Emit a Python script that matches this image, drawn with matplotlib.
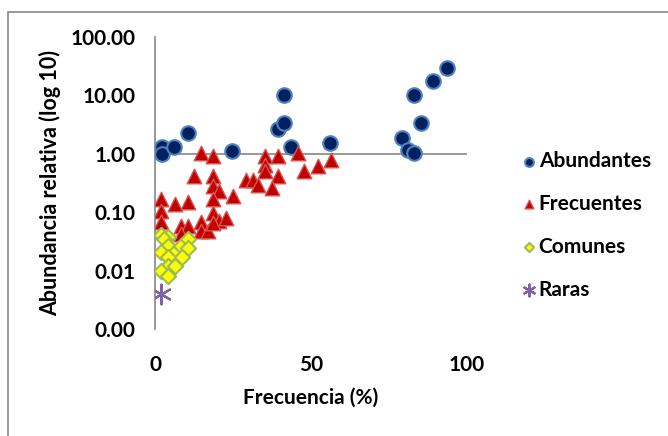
import numpy as np
import matplotlib
matplotlib.use('Agg')
import matplotlib.pyplot as plt
from matplotlib.patches import Rectangle

plt.rcParams['font.family'] = ['Lato', 'DejaVu Sans']
plt.rcParams['font.weight'] = 'bold'

# Frecuencia (%) vs abundancia relativa, por categoria
abund_x = [2.1, 2.1, 6.2, 10.7, 24.8, 39.5, 41.5, 41.5, 43.6, 56.1, 79.1, 81.0, 83.1, 83.0, 85.3, 89.2, 93.7]
abund_y = [1.33, 1.0, 1.33, 2.26, 1.1, 2.65, 3.4, 10.2, 1.3, 1.52, 1.83, 1.17, 1.05, 10.1, 3.43, 17.8, 28.9]

frec_x = [14.6, 18.5, 12.6, 18.5, 18.5, 20.6, 18.5, 24.9, 2.0, 6.3, 10.5, 2.0, 2.0, 8.3, 10.7,
          14.6, 18.5, 20.6, 22.8, 14.6, 16.9, 8.3, 18.5, 29.2, 31.3, 33.1, 35.3, 35.3, 35.3,
          39.5, 39.5, 37.4, 45.9, 47.9, 52.1, 56.3]
frec_y = [1.03, 0.90, 0.42, 0.42, 0.28, 0.23, 0.17, 0.19, 0.17, 0.14, 0.15, 0.105, 0.067, 0.058, 0.058,
          0.069, 0.097, 0.072, 0.079, 0.047, 0.047, 0.043, 0.065, 0.36, 0.36, 0.29, 0.92, 0.65, 0.50,
          0.92, 0.42, 0.26, 1.05, 0.50, 0.62, 0.77]

comun_x = [1.9, 4.3, 2.8, 4.3, 1.9, 6.4, 8.3, 10.5, 10.7, 4.3, 8.6, 4.1, 6.4, 1.9, 4.3]
comun_y = [0.041, 0.038, 0.035, 0.026, 0.021, 0.021, 0.026, 0.035, 0.024, 0.017, 0.017, 0.012, 0.012, 0.0097, 0.0081]

raras_x = [1.9]
raras_y = [0.0039]

fig = plt.figure(figsize=(6.68, 4.36), dpi=100)
ax = fig.add_axes([155/668, 1 - 329/436, 312/668, 292/436])

# chart area border (Excel-like), partly cut off
fig.patches.append(Rectangle((8/668, -0.1), 1.2, (436 - 12)/436 + 0.1, transform=fig.transFigure,
                             fill=False, edgecolor='#868686', linewidth=1.2))

ax.axhline(1, color='#868686', linewidth=1.2, zorder=1)

ax.scatter(abund_x, abund_y, s=110, marker='o', facecolor='#002060', edgecolor='#4f81bd',
           linewidth=1.5, label='Abundantes', zorder=3)
ax.scatter(frec_x, frec_y, s=110, marker='^', facecolor='#c00000', edgecolor='#d9534f',
           linewidth=1.0, label='Frecuentes', zorder=3)
ax.scatter(comun_x, comun_y, s=60, marker='D', facecolor='#ffff00', edgecolor='#9bbb59',
           linewidth=1.5, label='Comunes', zorder=4)
ax.scatter(raras_x, raras_y, s=200, marker=(6, 2, 0), color='#8064a2', linewidth=1.6,
           label='Raras', zorder=4)

ax.set_yscale('log')
ax.set_ylim(0.001, 100)
ax.set_xlim(0, 100)
ax.set_xticks([0, 50, 100])
ax.set_yticks([0.001, 0.01, 0.1, 1, 10, 100])
ax.set_yticklabels(['0.00', '0.01', '0.10', '1.00', '10.00', '100.00'])
ax.minorticks_off()
ax.tick_params(length=0, labelsize=15)
ax.tick_params(axis='y', pad=14)
ax.tick_params(axis='x', pad=19)

for s in ['top', 'right', 'bottom']:
    ax.spines[s].set_visible(False)
ax.spines['left'].set_color('#868686')
ax.spines['left'].set_linewidth(1.2)

ax.set_xlabel('Frecuencia (%)', fontsize=15, fontweight='bold', va='center')
ax.set_ylabel('Abundancia relativa (log 10)', fontsize=15.5, fontweight='bold', va='center')
ax.xaxis.set_label_coords(0.5, (329 - 398) / 292)
ax.yaxis.set_label_coords((50 - 155) / 312, 0.5)

fig.legend(loc='upper left', bbox_to_anchor=(521/668, 1 - 151/436), frameon=False,
           markerscale=0.6, handletextpad=0.05, handlelength=0.8, labelspacing=1.1,
           prop={'size': 15, 'weight': 'bold'}, borderaxespad=0, borderpad=0)

fig.savefig('out.png', dpi=100)
